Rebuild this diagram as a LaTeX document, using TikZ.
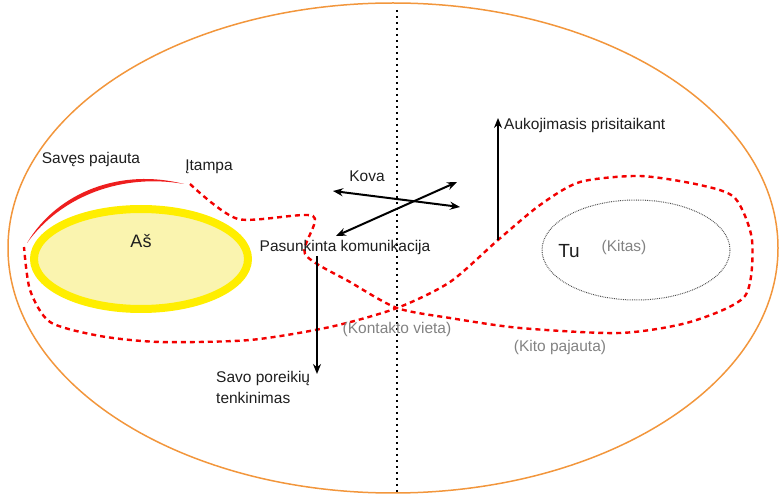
\documentclass[tikz,border=0pt]{standalone}
\usepackage{fontspec}
\setmainfont{Liberation Sans}
\usetikzlibrary{arrows.meta}
\definecolor{rim}{RGB}{242,150,60}
\definecolor{selfedge}{RGB}{255,238,0}
\definecolor{selffill}{RGB}{250,244,175}
\definecolor{feel}{RGB}{238,30,30}
\definecolor{txt}{RGB}{30,30,30}
\definecolor{soft}{RGB}{130,130,130}
\tikzset{
  lbl/.style={text=txt, font=\fontsize{15.5}{18}\selectfont, inner sep=0pt},
  note/.style={text=soft, font=\fontsize{15.5}{18}\selectfont, inner sep=0pt},
  push/.style={line width=2pt, draw=black, -{Stealth[length=10pt,width=8pt]}},
  both/.style={line width=2pt, draw=black, {Stealth[length=10pt,width=8pt]}-{Stealth[length=10pt,width=8pt]}},
  border/.style={red!95!black, line width=2.4pt, dash pattern=on 5pt off 4pt}
}
\begin{document}
\begin{tikzpicture}[x=1pt,y=-1pt]
\useasboundingbox (0,0) rectangle (780,494);
% outer field
\draw[rim, line width=1.5pt] (393,248) ellipse [x radius=385, y radius=245];
% dividing line
\coordinate (divtop) at (397,10);
\coordinate (divbot) at (397,494);
\draw[line width=2pt, dash pattern=on 2pt off 4pt] (divtop) -- (divbot);
% self
\fill[selffill] (141,259) ellipse [x radius=107, y radius=50];
\draw[selfedge, line width=8pt] (141,259) ellipse [x radius=107, y radius=50];
\node[lbl, font=\fontsize{18}{20}\selectfont] (as) at (141,241) {Aš};
% self-feeling arc, tapered at both ends
\fill[feel] (27,243) .. controls (58,191) and (122,168) .. (184,184)
  .. controls (122,173) and (61,196) .. (27,243) -- cycle;
\node[lbl] (savlbl) at (91,160) {Savęs pajauta};
\node[lbl] (itampa) at (209,167) {Įtampa};
% contact boundary (figure eight)
\draw[border] plot[smooth, tension=0.45] coordinates {
  (190,184) (238,219) (313,216) (305,254) (350,282) (397,308)
  (450,318) (520,328) (620,333) (690,322) (745,296) (752,240)
  (735,198) (700,185) (640,176) (580,182) (540,205) (498,240)
  (450,282) (397,308) (330,327) (250,340) (160,342) (100,336)
  (50,322) (30,290) (24,247)};
% other
\draw[black!70, line width=1pt, dash pattern=on 0.8pt off 1pt] (636,250) ellipse [x radius=94, y radius=50];
\node[lbl, font=\fontsize{19}{21}\selectfont] (tu) at (569,251) {Tu};
\node[note] (kitas) at (624,247) {(Kitas)};
% struggle arrows
\coordinate (k1a) at (333,191);
\coordinate (k1b) at (460,207);
\coordinate (k2a) at (336,236);
\coordinate (k2b) at (457,182);
\draw[both] (k1a) -- (k1b);
\draw[both] (k2a) -- (k2b);
\node[lbl] (kova) at (367,176) {Kova};
\node[lbl] (pasunk) at (345,247) {Pasunkinta komunikacija};
% own needs
\coordinate (needtop) at (317,256);
\coordinate (needbot) at (317,374);
\draw[push] (needtop) -- (needbot);
\node[lbl, anchor=north west, align=left, font=\fontsize{15.5}{21}\selectfont] (needs) at (216,371) {Savo poreikių\\tenkinimas};
% self-sacrifice
\coordinate (adtop) at (498,118);
\coordinate (adbot) at (498,240);
\draw[push] (adbot) -- (adtop);
\node[lbl, anchor=west] (adapt) at (504,125) {Aukojimasis prisitaikant};
% notes
\node[note] (contact) at (397,329) {(Kontakto vieta)};
\node[note] (kito) at (560,347) {(Kito pajauta)};
\end{tikzpicture}
\end{document}
